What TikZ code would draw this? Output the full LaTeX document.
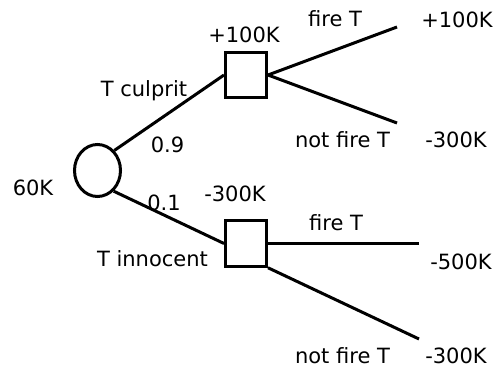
\documentclass[tikz,border=0pt]{standalone}
\usepackage{fontspec}
\setmainfont{DejaVu Sans}
\usetikzlibrary{shapes.geometric}

\begin{document}
\begin{tikzpicture}[x=1pt,y=-1pt,line width=3pt,
  every node/.style={font=\fontsize{21}{24}\selectfont},
  chance/.style={draw,ellipse,minimum width=46pt,minimum height=52pt,inner sep=0pt},
  decision/.style={draw,rectangle,minimum width=41pt,minimum height=45.5pt,inner sep=0pt}]
  \useasboundingbox (0,0) rectangle (499,367);

% define the states in the tree
  \node[chance]   (c0) at (97.5,170.5) {};
  \node[decision] (d1) at (246,75)     {};
  \node[decision] (d2) at (246,243.5)  {};

% end points of the branches
  \coordinate (l1) at (397,27);
  \coordinate (l2) at (397,123);
  \coordinate (l3) at (419,243.5);
  \coordinate (l4) at (419,339);

% define the links
  \path (c0.50)  edge (d1.west)
        (c0.-52) edge (d2.west)
        (d1.east) edge (l1)
        (d1.east) edge (l2)
        (d2.east) edge (l3)
        (d2.south east) edge (l4);

% values and labels
  \node (v0)  at (33,187.5)   {60K};
  \node (v1)  at (244,35)     {+100K};
  \node (v2)  at (235,193.5)  {-300K};
  \node (p1)  at (144,90.5)   {T culprit};
  \node (q1)  at (167.5,145)  {0.9};
  \node (p2)  at (152.5,258.5){T innocent};
  \node (q2)  at (164,203)    {0.1};
  \node (a1)  at (335,18.5)   {fire T};
  \node (a2)  at (342.5,140)  {not fire T};
  \node (a3)  at (336,222.5)  {fire T};
  \node (a4)  at (342.5,355.5){not fire T};
  \node (u1)  at (457,20)     {+100K};
  \node (u2)  at (456,140)    {-300K};
  \node (u3)  at (461,261.5)  {-500K};
  \node (u4)  at (456,355.5)  {-300K};
\end{tikzpicture}
\end{document}
